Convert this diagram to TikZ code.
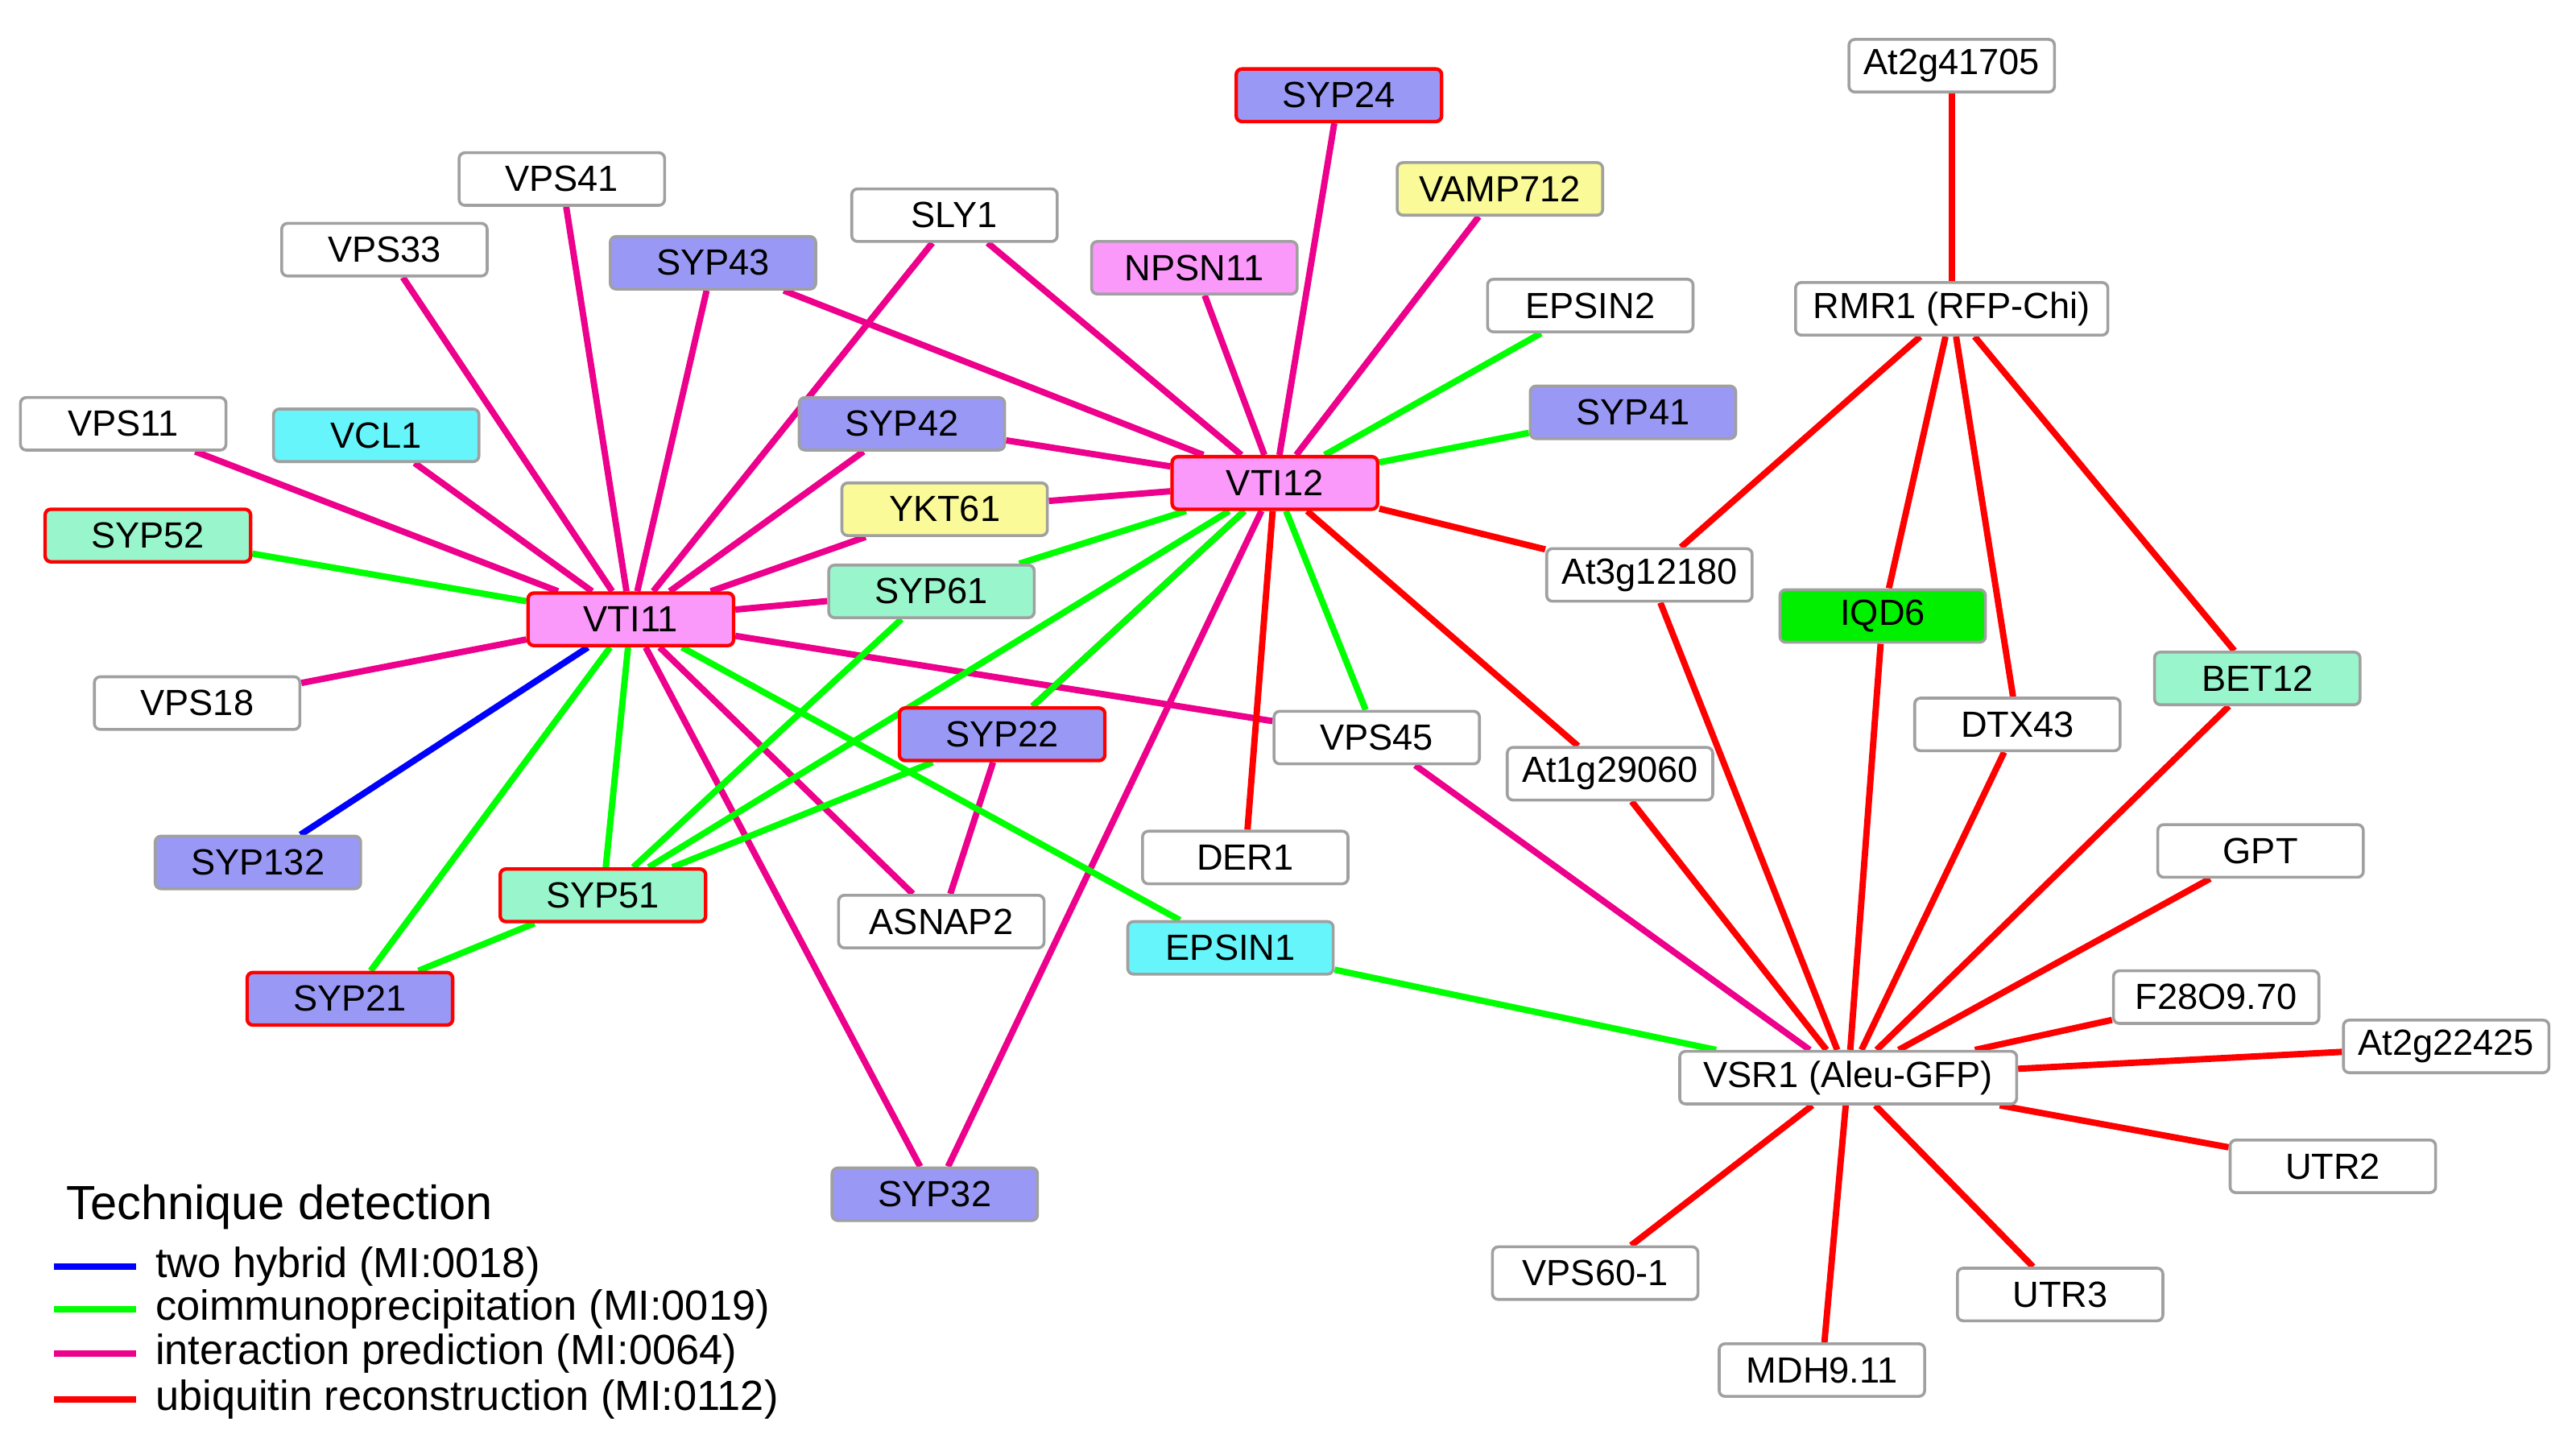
\documentclass[tikz,border=0pt]{standalone}
\usepackage{fontspec}
\setmainfont{Liberation Sans}
\usepackage{xcolor}
\usetikzlibrary{backgrounds}
\definecolor{prot}{HTML}{9999F5}
\definecolor{cyn}{HTML}{66F5FA}
\definecolor{aqua}{HTML}{99F5CC}
\definecolor{yel}{HTML}{FAFA99}
\definecolor{pnk}{HTML}{FA99FA}
\definecolor{grn}{HTML}{00F000}
\definecolor{edgray}{HTML}{A0A0A0}
\tikzset{
  gene/.style={draw=edgray, rounded corners=1pt, minimum width=1.25cm, minimum height=0.32cm,
    inner sep=1pt, font=\fontsize{6.3}{7}\selectfont, fill=white, line width=0.5pt},
  hit/.style={draw=red, line width=0.6pt},
  pred/.style={magenta, line width=1.1pt},
  coip/.style={green, line width=1.1pt},
  yh/.style={blue, line width=1.1pt},
  ubq/.style={red, line width=1.1pt}
}
\begin{document}
\begin{tikzpicture}[x=0.01cm, y=-0.01cm]
\useasboundingbox (0,0) rectangle (1568,883);
% proteins
\node[gene] (at2g41705) at (1188,40) {At2g41705};
\node[gene, fill=prot, hit] (syp24) at (815,58) {SYP24};
\node[gene, fill=yel] (vamp712) at (913,115) {VAMP712};
\node[gene] (vps41) at (342,109) {VPS41};
\node[gene] (sly1) at (581,131) {SLY1};
\node[gene] (vps33) at (234,152) {VPS33};
\node[gene, fill=prot] (syp43) at (434,160) {SYP43};
\node[gene, fill=pnk] (npsn11) at (727,163) {NPSN11};
\node[gene] (epsin2) at (968,186) {EPSIN2};
\node[gene, minimum width=1.9cm] (rmr1) at (1188,188) {RMR1 (RFP-Chi)};
\node[gene, fill=prot] (syp41) at (994,251) {SYP41};
\node[gene] (vps11) at (75,258) {VPS11};
\node[gene, fill=cyn] (vcl1) at (229,265) {VCL1};
\node[gene, fill=prot] (syp42) at (549,258) {SYP42};
\node[gene, fill=pnk, hit] (vti12) at (776,294) {VTI12};
\node[gene, fill=yel] (ykt61) at (575,310) {YKT61};
\node[gene, fill=aqua, hit] (syp52) at (90,326) {SYP52};
\node[gene] (at3g12180) at (1004,350) {At3g12180};
\node[gene, fill=aqua] (syp61) at (567,360) {SYP61};
\node[gene, fill=pnk, hit] (vti11) at (384,377) {VTI11};
\node[gene, fill=grn] (iqd6) at (1146,375) {IQD6};
\node[gene, fill=aqua] (bet12) at (1374,413) {BET12};
\node[gene] (vps18) at (120,428) {VPS18};
\node[gene, fill=prot, hit] (syp22) at (610,447) {SYP22};
\node[gene] (vps45) at (838,449) {VPS45};
\node[gene] (dtx43) at (1228,441) {DTX43};
\node[gene] (at1g29060) at (980,471) {At1g29060};
\node[gene] (gpt) at (1376,518) {GPT};
\node[gene] (der1) at (758,522) {DER1};
\node[gene, fill=prot] (syp132) at (157,525) {SYP132};
\node[gene, fill=aqua, hit] (syp51) at (367,545) {SYP51};
\node[gene] (asnap2) at (573,561) {ASNAP2};
\node[gene, fill=cyn] (epsin1) at (749,577) {EPSIN1};
\node[gene, fill=prot, hit] (syp21) at (213,608) {SYP21};
\node[gene] (f28o9) at (1349,607) {F28O9.70};
\node[gene] (at2g22425) at (1489,637) {At2g22425};
\node[gene, minimum width=2.05cm] (vsr1) at (1125,656) {VSR1 (Aleu-GFP)};
\node[gene] (utr2) at (1420,710) {UTR2};
\node[gene, fill=prot] (syp32) at (569,727) {SYP32};
\node[gene] (vps601) at (971,775) {VPS60-1};
\node[gene] (utr3) at (1254,788) {UTR3};
\node[gene] (mdh911) at (1109,834) {MDH9.11};
% interactions
\begin{pgfonlayer}{background}
\foreach \p in {vps41,vps33,syp43,sly1,syp42,vcl1,vps11,ykt61,syp61,vps18,vps45,syp32,asnap2}
  \draw[pred] (vti11) -- (\p);
\foreach \p in {sly1,syp43,npsn11,syp24,vamp712,syp42,ykt61,syp22,syp32}
  \draw[pred] (vti12) -- (\p);
\draw[pred] (syp22) -- (asnap2);
\draw[pred] (vps45) -- (vsr1);
\foreach \p in {syp52,syp51,syp21,epsin1}
  \draw[coip] (vti11) -- (\p);
\foreach \p in {epsin2,syp41,syp61,syp51,syp22,vps45}
  \draw[coip] (vti12) -- (\p);
\foreach \p in {syp61,syp22,syp21}
  \draw[coip] (syp51) -- (\p);
\draw[coip] (epsin1) -- (vsr1);
\draw[yh] (vti11) -- (syp132);
\foreach \p in {der1,at3g12180,at1g29060}
  \draw[ubq] (vti12) -- (\p);
\draw[ubq] (at2g41705) -- (rmr1);
\foreach \p in {at3g12180,iqd6,dtx43,bet12}
  \draw[ubq] (rmr1) -- (\p);
\foreach \p in {at3g12180,iqd6,at1g29060,dtx43,bet12,gpt,f28o9,at2g22425,utr2,utr3,mdh911,vps601}
  \draw[ubq] (vsr1) -- (\p);
\end{pgfonlayer}
% legend
\node[anchor=west, font=\fontsize{8.3}{9}\selectfont] (legtitle) at (28,735) {Technique detection};
\foreach \c/\t/\y in {yh/two hybrid (MI:0018)/771, coip/coimmunoprecipitation (MI:0019)/797,
    pred/interaction prediction (MI:0064)/824, ubq/ubiquitin reconstruction (MI:0112)/852} {
  \coordinate (la) at (33,\y);
  \coordinate (lb) at (83,\y);
  \draw[\c] (la) -- (lb);
  \node[anchor=west, font=\fontsize{7.3}{8}\selectfont, inner sep=0pt] (lt) at (94,\y) {\t};
}
\end{tikzpicture}
\end{document}
